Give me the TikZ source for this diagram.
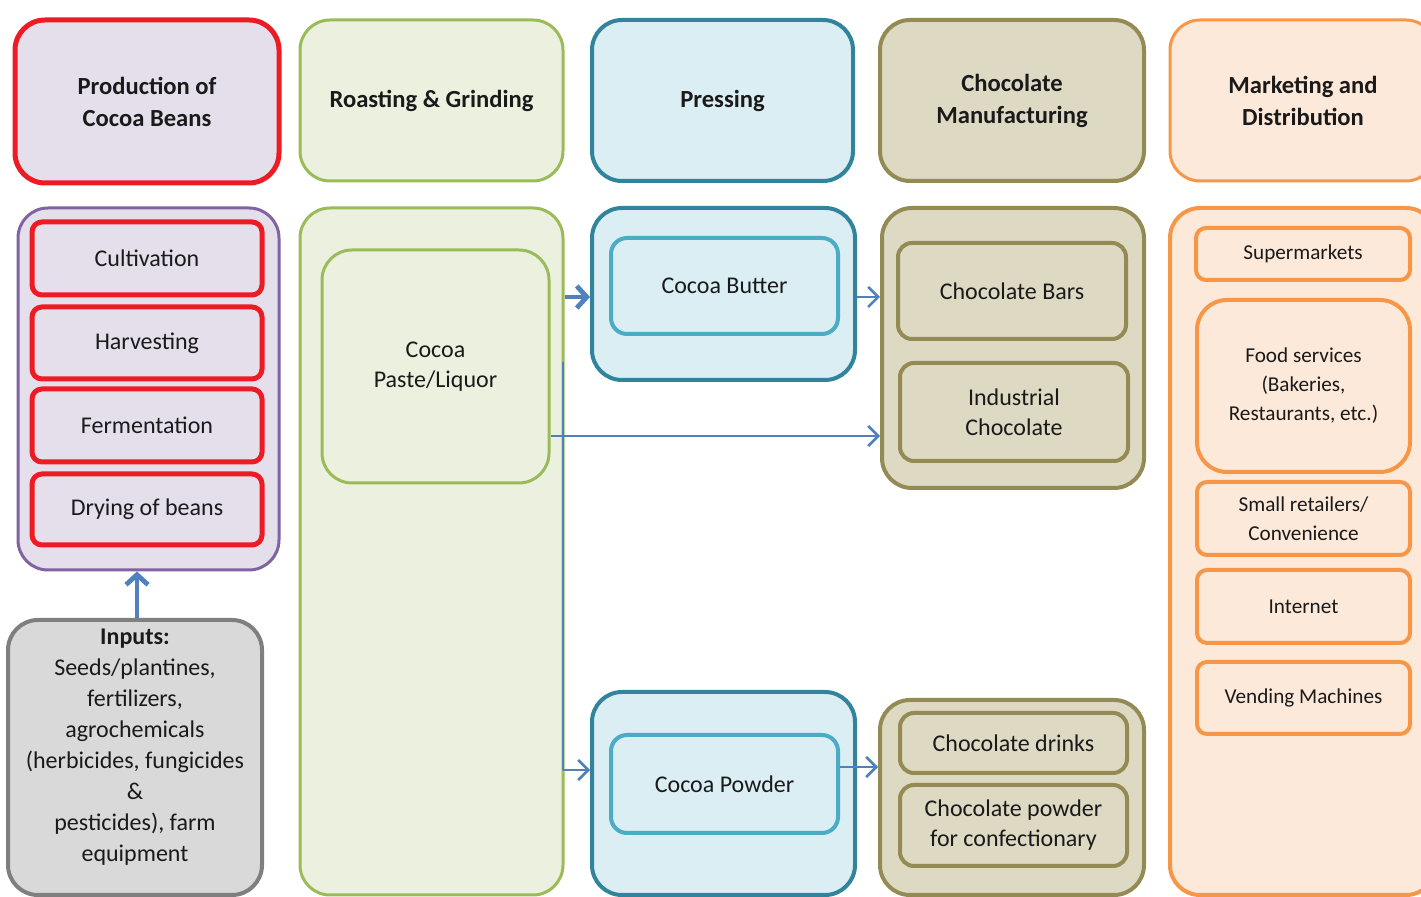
\documentclass[tikz,border=0pt]{standalone}
\usepackage{fontspec}
\setmainfont{Carlito}
\usetikzlibrary{arrows.meta}
\definecolor{redB}{HTML}{ED1C24}
\definecolor{lavF}{HTML}{E5DFEC}
\definecolor{purB}{HTML}{8064A2}
\definecolor{grnB}{HTML}{9BBB59}
\definecolor{grnF}{HTML}{EBF1DE}
\definecolor{tealB}{HTML}{31849B}
\definecolor{tealI}{HTML}{4BACC6}
\definecolor{bluF}{HTML}{DBEEF4}
\definecolor{olvB}{HTML}{948A54}
\definecolor{olvF}{HTML}{DDD9C3}
\definecolor{orgB}{HTML}{F79646}
\definecolor{orgF}{HTML}{FDE9D9}
\definecolor{gryB}{HTML}{7F7F7F}
\definecolor{gryF}{HTML}{D9D9D9}
\definecolor{arrB}{HTML}{4F81BD}
\definecolor{txt}{HTML}{1A1A1A}
\newcommand\bx[7]{%
 \pgfmathsetmacro\bxw{(#4-#2)/2}\pgfmathsetmacro\bxh{(#5-#3)/2}%
 \node[#6, minimum width=\bxw pt, minimum height=\bxh pt] (#1) at ({(#2+#4)/2},{(#3+#5)/2}) {#7};}
\tikzset{
 box/.style={rounded corners=15pt, inner sep=0pt, align=center, text=txt, font=\fontsize{12}{15}\selectfont},
 hdr/.style={box, font=\bfseries\fontsize{12.3}{16}\selectfont},
 sbox/.style={box, rounded corners=5pt},
 hred/.style={hdr, draw=redB, fill=lavF, line width=2.5pt},
 bpur/.style={box, draw=purB, fill=lavF, line width=1.5pt},
 ired/.style={sbox, draw=redB, fill=lavF, line width=2.5pt},
 igry/.style={box, draw=gryB, fill=gryF, line width=2pt, font=\fontsize{12}{15.5}\selectfont},
 hgrn/.style={hdr, draw=grnB, fill=grnF, line width=1.5pt},
 bgrn/.style={box, draw=grnB, fill=grnF, line width=1.5pt},
 htea/.style={hdr, draw=tealB, fill=bluF, line width=2pt},
 btea/.style={box, draw=tealB, fill=bluF, line width=2pt},
 itea/.style={sbox, rounded corners=8pt, draw=tealI, fill=bluF, line width=2pt},
 holv/.style={hdr, draw=olvB, fill=olvF, line width=2pt},
 bolv/.style={box, draw=olvB, fill=olvF, line width=2pt},
 iolv/.style={sbox, rounded corners=7pt, draw=olvB, fill=olvF, line width=2pt},
 horg/.style={hdr, draw=orgB, fill=orgF, line width=1.5pt},
 borg/.style={box, draw=orgB, fill=orgF, line width=2pt},
 iorg/.style={sbox, draw=orgB, fill=orgF, line width=2pt, font=\fontsize{10.6}{14.5}\selectfont},
 conn/.style={draw=arrB, line width=1.3pt, -{Straight Barb[length=5pt,width=10pt]}},
 thick conn/.style={draw=arrB, line width=2.4pt, -{Straight Barb[length=5pt,width=11pt]}},
 plain conn/.style={draw=arrB, line width=1.3pt},
}
\begin{document}
\begin{tikzpicture}[x=0.5pt,y=-0.5pt]
\useasboundingbox (0,0) rectangle (1421,897);
\clip (0,0) rectangle (1421,897);
% column 1
\bx{h1}{15}{20}{279}{183}{hred}{Production of\\Cocoa Beans}
\bx{b1}{18}{208}{279}{570}{bpur}{}
\bx{cult}{32}{222}{262}{295}{ired}{Cultivation}
\bx{harv}{32}{307}{262}{379}{ired}{Harvesting}
\bx{ferm}{32}{389}{262}{462}{ired}{Fermentation}
\bx{dry}{32}{474}{262}{545}{ired}{Drying of beans}
\bx{inp}{8}{620}{262}{895}{igry}{\textbf{Inputs:}\\Seeds/plantines,\\fertilizers,\\agrochemicals\\(herbicides, fungicides\\\&\\pesticides), farm\\equipment\\[-3pt]}
% column 2
\bx{h2}{300}{20}{563}{181}{hgrn}{Roasting \& Grinding}
\bx{b2}{300}{208}{563}{895}{bgrn}{}
\bx{paste}{322}{250}{549}{483}{bgrn}{Cocoa\\Paste/Liquor}
% column 3
\bx{h3}{592}{20}{853}{181}{htea}{Pressing}
\bx{b3a}{592}{208}{855}{380}{btea}{}
\bx{butter}{611}{238}{838}{334}{itea}{Cocoa Butter}
\bx{b3b}{592}{692}{855}{895}{btea}{}
\bx{powder}{611}{735}{838}{833}{itea}{Cocoa Powder}
% column 4
\bx{h4}{880}{20}{1144}{181}{holv}{Chocolate\\Manufacturing}
\bx{b4a}{882}{208}{1144}{488}{bolv}{}
\bx{bars}{898}{243}{1126}{339}{iolv}{Chocolate Bars}
\bx{indus}{900}{363}{1128}{461}{iolv}{Industrial\\Chocolate}
\bx{b4b}{880}{700}{1144}{895}{bolv}{}
\bx{drinks}{900}{713}{1127}{773}{iolv}{Chocolate drinks}
\bx{cpow}{900}{785}{1127}{866}{iolv}{Chocolate powder\\for confectionary}
% column 5
\bx{h5}{1170}{20}{1436}{181}{horg}{Marketing and\\Distribution}
\bx{b5}{1170}{208}{1436}{895}{borg}{}
\bx{sup}{1196}{228}{1410}{280}{iorg}{Supermarkets}
\bx{food}{1197}{300}{1410}{472}{iorg, rounded corners=15pt}{Food services\\(Bakeries,\\Restaurants, etc.)}
\bx{small}{1197}{482}{1410}{555}{iorg}{Small retailers/\\Convenience}
\bx{inet}{1197}{570}{1410}{643}{iorg}{Internet}
\bx{vend}{1197}{662}{1410}{734}{iorg}{Vending Machines}
% connectors
\coordinate (split) at (563,362);
\coordinate (bend) at (563,770);
\draw[thick conn] (b2.east |- 0,297) -- (b3a.west |- 0,297);
\draw[plain conn] (split) -- (bend);
\draw[conn] (bend) -- (b3b.west |- bend);
\draw[conn] (paste.east |- 0,436) -- (b4a.west |- 0,436);
\draw[conn] (b3a.east |- 0,297) -- (b4a.west |- 0,297);
\draw[conn] (powder.east |- 0,767) -- (b4b.west |- 0,767);
\draw[thick conn] (inp.north -| 137,0) -- (b1.south -| 137,0);
\end{tikzpicture}
\end{document}
